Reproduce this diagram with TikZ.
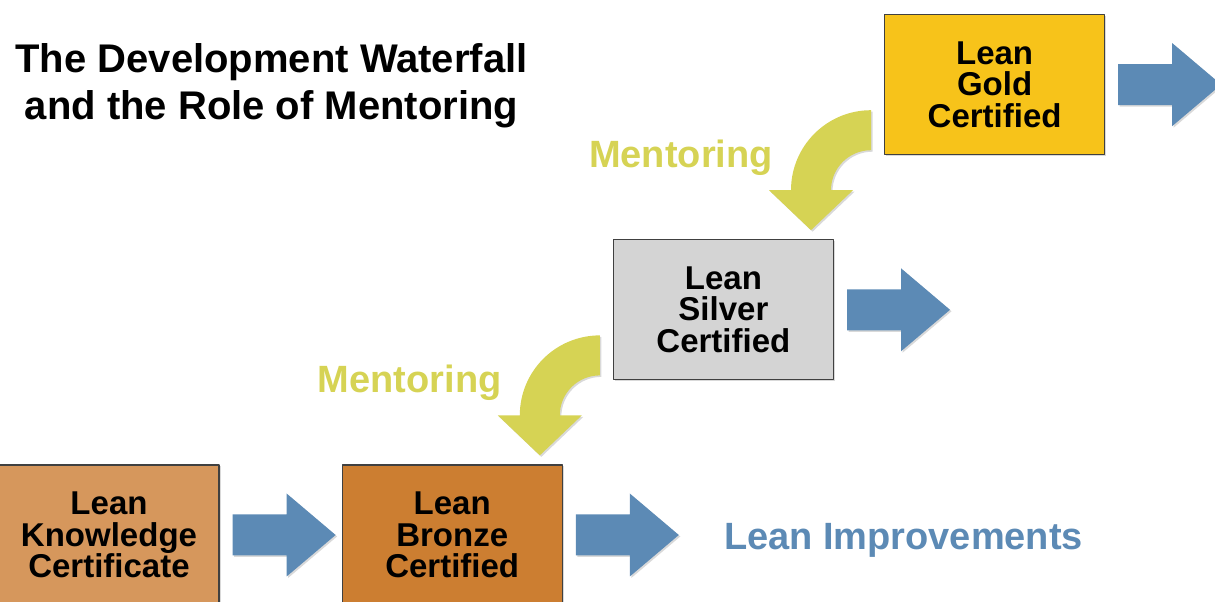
\documentclass[tikz,border=0pt]{standalone}
\usepackage{fontspec}
\setmainfont{Liberation Sans}
\usetikzlibrary{positioning,shadows}

\definecolor{goldfill}{RGB}{247,195,26}
\definecolor{silverfill}{RGB}{212,212,212}
\definecolor{bronzefill}{RGB}{204,126,49}
\definecolor{knowfill}{RGB}{214,151,92}
\definecolor{flowblue}{RGB}{92,138,181}
\definecolor{mentorgreen}{RGB}{214,211,84}

\newcommand{\boxfont}{\fontsize{33}{31.5}\selectfont\bfseries\lineskiplimit=-40pt}

\tikzset{
  softshadow/.style={drop shadow={shadow xshift=1.5pt, shadow yshift=-1.5pt, opacity=0.3}},
  levelbox/.style={draw=black!75, line width=1.2pt, minimum width=220pt, minimum height=140pt,
    inner sep=0pt, align=center, font=\boxfont, softshadow},
  mentorlabel/.style={text=mentorgreen, font=\fontsize{38}{40}\selectfont\bfseries, anchor=base, inner sep=0pt},
  blockarrow/.pic={
    \fill[flowblue, softshadow] (0,-20.5) -- (54,-20.5) -- (54,-41.5) -- (103,0)
      -- (54,41.5) -- (54,20.5) -- (0,20.5) -- cycle;
    \coordinate (-tip) at (103,0);
  },
  mentorarrow/.pic={
    \fill[mentorgreen, softshadow] (0,80) arc[start angle=90, end angle=180, radius=80]
      -- (-102,0) -- (-60,-40) -- (-18,0) -- (-40,0)
      arc[start angle=180, end angle=90, radius=40] -- cycle;
  },
}

\begin{document}
\begin{tikzpicture}[line cap=round, line join=round, x=1pt, y=1pt]
  \clip (0,0) rectangle (1215,602);
  % title
  \node[font=\fontsize{40}{47}\selectfont\bfseries, align=center, anchor=north, inner sep=0pt]
    (title) at (271.5,559) {The Development Waterfall\\and the Role of Mentoring};
  % certification levels
  \node[levelbox, fill=knowfill] (know) at (109,67) {Lean\\Knowledge\\Certificate};
  \node[levelbox, fill=bronzefill, right=122pt of know] (bronze) {Lean\\Bronze\\Certified};
  \node[levelbox, fill=silverfill, above right=84pt and 50pt of bronze] (silver) {Lean\\Silver\\Certified};
  \node[levelbox, fill=goldfill, above right=84pt and 50pt of silver] (gold) {Lean\\Gold\\Certified};
  % flow arrows
  \foreach \src/\nm in {know/akb, bronze/abi, silver/asv, gold/agd}
    \pic (\nm) at ([xshift=13pt]\src.east) {blockarrow};
  \node[text=flowblue, font=\fontsize{38}{40}\selectfont\bfseries, anchor=base west, inner sep=0pt]
    (improve) at ([xshift=45pt, yshift=-15pt]abi-tip) {Lean Improvements};
  % mentoring
  \foreach \lower/\nm in {bronze/mbr, silver/msv} {
    \coordinate (\nm) at ([shift={(37,49)}]\lower.north east);
    \pic at (\nm) {mentorarrow};
    \node[mentorlabel] (\nm-text) at ([shift={(-190,23)}]\nm) {Mentoring};
  }
\end{tikzpicture}
\end{document}
